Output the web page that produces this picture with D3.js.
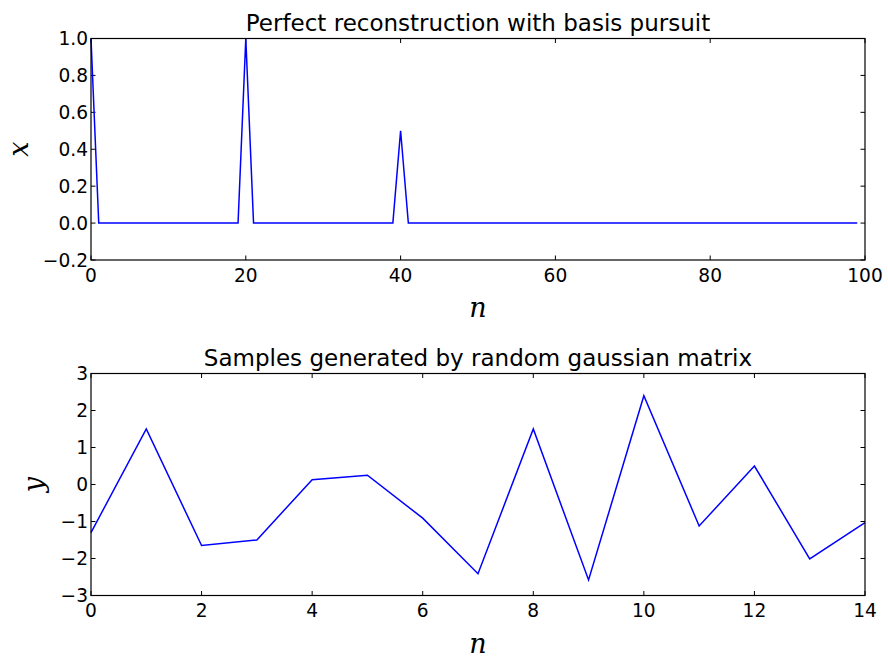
<!DOCTYPE html>
<html>
<head>
<meta charset="utf-8">
<script src="https://cdn.jsdelivr.net/npm/d3@7"></script>
<style>
  body { margin: 0; background: #fff; }
  text { font-family: "DejaVu Sans", sans-serif; fill: #000; }
  .mathlab { font-family: "DejaVu Serif", serif; font-style: italic; }
</style>
</head>
<body>
<div id="chart"></div>
<script>
// top panel: sparse signal, n = 0..99
var sparseN = d3.range(0, 100);
var spikeIdx = [0, 20, 40];
var spikeVal = [1.0, 1.0, 0.5];
var sparseX = sparseN.map(function(n) {
  var k = spikeIdx.indexOf(n);
  return k < 0 ? 0 : spikeVal[k];
});
var topXTicks = [0, 20, 40, 60, 80, 100];
var topYTicks = [-0.2, 0.0, 0.2, 0.4, 0.6, 0.8, 1.0];

// bottom panel: samples
var sampN = d3.range(0, 15);
var sampY = [-1.30, 1.50, -1.65, -1.50, 0.13, 0.25, -0.91, -2.41, 1.50, -2.58, 2.40, -1.12, 0.50, -2.01, -1.03];
var botXTicks = [0, 2, 4, 6, 8, 10, 12, 14];
var botYTicks = [-3, -2, -1, 0, 1, 2, 3];

var W = 888, H = 662;
var svg = d3.select("#chart").append("svg")
    .attr("width", W)
    .attr("height", H);

var left = 91, right = 865;

function panel(opts) {
  var x = d3.scaleLinear().domain(opts.xdom).range([left, right]);
  var y = d3.scaleLinear().domain(opts.ydom).range([opts.bottom, opts.top]);
  var g = svg.append("g");

  var tl = 4.5;
  // inward ticks on all four sides
  g.selectAll(".xtb").data(opts.xticks).enter().append("line")
    .attr("x1", d => x(d)).attr("x2", d => x(d))
    .attr("y1", opts.bottom).attr("y2", opts.bottom - tl)
    .attr("stroke", "#000");
  g.selectAll(".xtt").data(opts.xticks).enter().append("line")
    .attr("x1", d => x(d)).attr("x2", d => x(d))
    .attr("y1", opts.top).attr("y2", opts.top + tl)
    .attr("stroke", "#000");
  g.selectAll(".ytl").data(opts.yticks).enter().append("line")
    .attr("x1", left).attr("x2", left + tl)
    .attr("y1", d => y(d)).attr("y2", d => y(d))
    .attr("stroke", "#000");
  g.selectAll(".ytr").data(opts.yticks).enter().append("line")
    .attr("x1", right).attr("x2", right - tl)
    .attr("y1", d => y(d)).attr("y2", d => y(d))
    .attr("stroke", "#000");

  // tick labels
  g.selectAll(".xl").data(opts.xticks).enter().append("text")
    .attr("x", d => x(d))
    .attr("y", opts.bottom + 21.7)
    .attr("text-anchor", "middle")
    .style("font-size", "18.6px")
    .text(opts.xfmt);
  g.selectAll(".yl").data(opts.yticks).enter().append("text")
    .attr("x", left - 3)
    .attr("y", d => y(d) + 6.7)
    .attr("text-anchor", "end")
    .style("font-size", "18.6px")
    .text(opts.yfmt);

  // line
  var line = d3.line().x(d => x(d[0])).y(d => y(d[1]));
  g.append("path")
    .datum(opts.xs.map((d, i) => [d, opts.ys[i]]))
    .attr("d", line)
    .attr("fill", "none")
    .attr("stroke", "#0000ff")
    .attr("stroke-width", 1.5)
    .attr("stroke-linejoin", "miter");

  // frame
  g.append("rect")
    .attr("x", left).attr("y", opts.top)
    .attr("width", right - left).attr("height", opts.bottom - opts.top)
    .attr("fill", "none").attr("stroke", "#000").attr("stroke-width", 1.2);

  // title and labels
  g.append("text")
    .attr("x", (left + right) / 2).attr("y", opts.top - 7.5)
    .attr("text-anchor", "middle")
    .style("font-size", "23px")
    .text(opts.title);
  g.append("text")
    .attr("class", "mathlab")
    .attr("x", (left + right) / 2).attr("y", opts.bottom + 57)
    .attr("text-anchor", "middle")
    .style("font-size", "27px")
    .text("n");
  g.append("text")
    .attr("class", "mathlab")
    .attr("transform", "translate(" + opts.ylabX + "," + ((opts.top + opts.bottom) / 2) + ") rotate(-90)")
    .attr("text-anchor", "middle")
    .style("font-size", "27px")
    .text(opts.ylabel);
}

panel({
  top: 38.5, bottom: 260,
  xdom: [0, 100], ydom: [-0.2, 1.0],
  xticks: topXTicks, yticks: topYTicks,
  xfmt: d => d, yfmt: d => (d < 0 ? "\u2212" : "") + Math.abs(d).toFixed(1),
  xs: sparseN, ys: sparseX,
  title: "Perfect reconstruction with basis pursuit",
  ylabel: "x", ylabX: 28
});

panel({
  top: 373.5, bottom: 595.5,
  xdom: [0, 14], ydom: [-3, 3],
  xticks: botXTicks, yticks: botYTicks,
  xfmt: d => d, yfmt: d => (d < 0 ? "\u2212" : "") + Math.abs(d),
  xs: sampN, ys: sampY,
  title: "Samples generated by random gaussian matrix",
  ylabel: "y", ylabX: 43
});
</script>
</body>
</html>
